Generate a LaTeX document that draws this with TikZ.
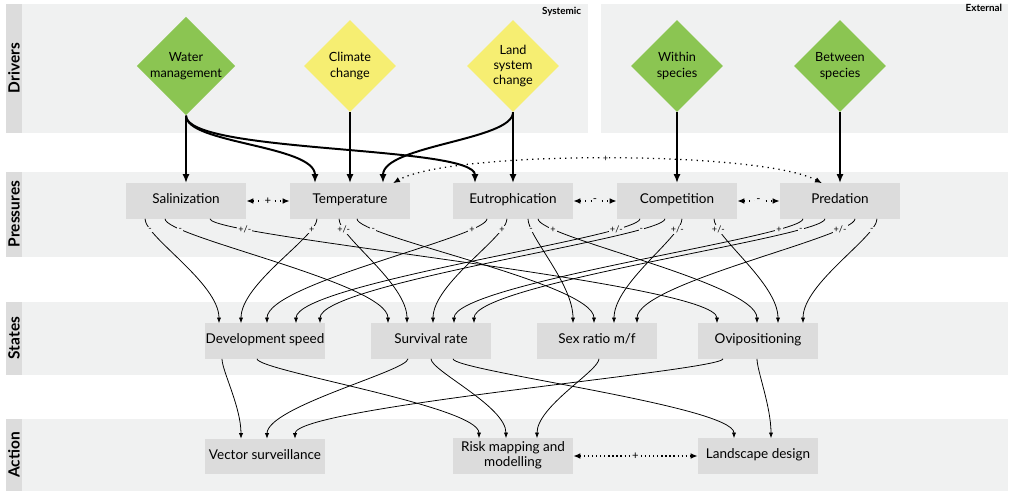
\documentclass[tikz,border=0pt]{standalone}
\usepackage{fontspec}
\setmainfont{Lato}
\usetikzlibrary{arrows.meta,positioning,calc,shapes.geometric}

\definecolor{bandgray}{RGB}{240,241,241}
\definecolor{boxgray}{RGB}{220,220,220}
\definecolor{drvgreen}{RGB}{139,197,82}
\definecolor{drvyellow}{RGB}{246,238,114}

\begin{document}
\begin{tikzpicture}[
  x=0.025cm, y=-0.025cm,
  rowname/.style={rotate=90, font=\bfseries\fontsize{11}{12}\selectfont},
  driver/.style={diamond, aspect=1, minimum size=2.3cm, inner sep=0pt,
    align=center, font=\fontsize{9}{11}\selectfont},
  box/.style={fill=boxgray, minimum width=3cm, minimum height=0.875cm,
    inner sep=0pt, align=center, font=\fontsize{9.6}{10.5}\selectfont,
    execute at begin node=\strut},
  push/.style={-{Latex[length=6.5pt,width=5pt]}, line width=1.4pt},
  link/.style={-{Latex[length=4pt,width=3pt]}, line width=0.55pt},
  both/.style={{Latex[length=5pt,width=4pt]}-{Latex[length=5pt,width=4pt]},
    line width=0.9pt, dash pattern=on 0.9pt off 3pt},
  sign/.style={fill=bandgray, inner sep=0.8pt, font=\fontsize{6.5}{7}\selectfont},
  curve/.style={to path={.. controls +(0,18) and +(0,-40) .. (\tikztotarget) \tikztonodes}},
  drop/.style={to path={.. controls +(0,12) and +(0,-32) .. (\tikztotarget) \tikztonodes}},
]
\useasboundingbox (0,0) rectangle (1012,491);

% bands
\fill[bandgray] (22,4) rectangle (588,133);
\fill[bandgray] (601,4) rectangle (1008,133);
\fill[bandgray] (22,172) rectangle (1008,257);
\fill[bandgray] (22,302) rectangle (1008,375);
\fill[bandgray] (22,419) rectangle (1008,491);
\fill[boxgray] (6,4) rectangle (22,133);
\fill[boxgray] (6,172) rectangle (22,257);
\fill[boxgray] (6,302) rectangle (22,375);
\fill[boxgray] (6,419) rectangle (22,491);
\node[rowname] (rdrv) at (14,68) {Drivers};
\node[rowname] (rprs) at (14,214) {Pressures};
\node[rowname] (rsta) at (14,338) {States};
\node[rowname] (ract) at (14,455) {Action};
\node[font=\bfseries\fontsize{7}{8}\selectfont, anchor=east] (sys) at (586,12) {Systemic};
\node[font=\bfseries\fontsize{7}{8}\selectfont, anchor=east] (ext) at (1007,8) {External};

% drivers
\node[driver, fill=drvgreen] (water) at (186,66) {Water\\management};
\node[driver, fill=drvyellow] (climate) at (350,66) {Climate\\change};
\node[driver, fill=drvyellow] (landsys) at (513,66) {Land\\system\\change};
\node[driver, fill=drvgreen] (within) at (677,66) {Within\\species};
\node[driver, fill=drvgreen] (between) at (840,66) {Between\\species};

% pressures
\node[box] (sal) at (186,201) {Salinization};
\node[box] (temp) at (350,201) {Temperature};
\node[box] (eutro) at (513,201) {Eutrophication};
\node[box] (comp) at (677,201) {Competition};
\node[box] (pred) at (840,201) {Predation};

% states
\node[box] (dev) at (265,341) {Development speed};
\node[box] (surv) at (431,341) {Survival rate};
\node[box] (sex) at (597,341) {Sex ratio m/f};
\node[box] (ovi) at (758,341) {Ovipositioning};

% action
\node[box, below=2cm of dev] (vecsurv) {Vector surveillance};
\node[box] (risk) at (513,456) {Risk mapping and\\modelling};
\node[box] (landdes) at (758,456) {Landscape design};

% drivers -> pressures
\draw[push] (water.south) -- (sal.north);
\draw[push] (water.south) .. controls +(0,28) and +(0,-38) .. ($(temp.north)+(-35,0)$);
\draw[push] (water.south) .. controls +(0,38) and +(0,-38) .. ($(eutro.north)+(-38,0)$);
\draw[push] (climate.south) -- (temp.north);
\draw[push] (landsys.south) .. controls +(0,28) and +(0,-38) .. ($(temp.north)+(33,0)$);
\draw[push] (landsys.south) -- (eutro.north);
\draw[push] (within.south) -- (comp.north);
\draw[push] (between.south) -- (pred.north);

% links between pressures
\draw[both] (sal) -- node[sign, font=\fontsize{8}{8}\selectfont] {+} (temp);
\draw[both] (eutro) -- node[sign, font=\fontsize{8}{8}\selectfont] {-} (comp);
\draw[both] (comp) -- node[sign, font=\fontsize{8}{8}\selectfont] {-} (pred);
\draw[both] ($(pred.north)+(-18,0)$) .. controls +(-62,-33) and +(57,-33) .. ($(temp.north)+(43,0)$)
  node[sign, pos=0.5, fill=white] {+};

% pressures -> states
\draw[link] ($(sal.south)+(-41,0)$) to[curve] node[sign, pos=0.16] {-} ($(dev.north)+(-46,0)$);
\draw[link] ($(sal.south)+(-21,0)$) to[curve] node[sign, pos=0.16] {-} ($(surv.north)+(-43,0)$);
\draw[link] ($(sal.south)+(24,0)$) to[curve] node[sign, pos=0.16] {+/-} ($(ovi.north)+(-41,0)$);
\draw[link] ($(temp.south)+(-33,0)$) to[curve] node[sign, pos=0.16] {+} ($(dev.north)+(-24,0)$);
\draw[link] ($(temp.south)+(-11,0)$) to[curve] node[sign, pos=0.16] {+/-} ($(surv.north)+(-24,0)$);
\draw[link] ($(temp.south)+(7,0)$) to[curve] node[sign, pos=0.16] {-} ($(sex.north)+(-3,0)$);
\draw[link] ($(eutro.south)+(-26,0)$) to[curve] node[sign, pos=0.16] {+} ($(dev.north)+(2,0)$);
\draw[link] ($(eutro.south)+(-6,0)$) to[curve] node[sign, pos=0.16] {+} ($(surv.north)+(2,0)$);
\draw[link] ($(eutro.south)+(15,0)$) to[curve] node[sign, pos=0.16] {-} ($(sex.north)+(-24,0)$);
\draw[link] ($(eutro.south)+(25,0)$) to[curve] node[sign, pos=0.16] {+} ($(ovi.north)+(-1,0)$);
\draw[link] ($(comp.south)+(-37,0)$) to[curve] node[sign, pos=0.16] {+/-} ($(dev.north)+(31,0)$);
\draw[link] ($(comp.south)+(-12,0)$) to[curve] node[sign, pos=0.16] {-} ($(dev.north)+(55,0)$);
\draw[link] ($(comp.south)+(5,0)$) to[curve] node[sign, pos=0.16] {+/-} ($(sex.north)+(17,0)$);
\draw[link] ($(comp.south)+(37,0)$) to[curve] node[sign, pos=0.16] {+/-} ($(ovi.north)+(20,0)$);
\draw[link] ($(pred.south)+(-37,0)$) to[curve] node[sign, pos=0.16] {+} ($(surv.north)+(23,0)$);
\draw[link] ($(pred.south)+(-15,0)$) to[curve] node[sign, pos=0.16] {-} ($(surv.north)+(43,0)$);
\draw[link] ($(pred.south)+(15,0)$) to[curve] node[sign, pos=0.16] {+/-} ($(sex.north)+(40,0)$);
\draw[link] ($(pred.south)+(37,0)$) to[curve] node[sign, pos=0.16] {-} ($(ovi.north)+(45,0)$);

% states -> action
\draw[link] ($(dev.south)+(-43,0)$) to[drop] ($(vecsurv.north)+(-24,0)$);
\draw[link] ($(dev.south)+(-8,0)$) to[drop] ($(risk.north)+(-34,0)$);
\draw[link] ($(surv.south)+(-23,0)$) to[drop] ($(vecsurv.north)+(2,0)$);
\draw[link] (surv.south) to[drop] ($(risk.north)+(-7,0)$);
\draw[link] ($(surv.south)+(22,0)$) to[drop] ($(landdes.north)+(-24,0)$);
\draw[link] ($(sex.south)+(2,0)$) to[drop] ($(risk.north)+(24,0)$);
\draw[link] ($(ovi.south)+(-35,0)$) to[drop] ($(vecsurv.north)+(30,0)$);
\draw[link] ($(ovi.south)+(-1,0)$) to[drop] ($(landdes.north)+(13,0)$);
\draw[both, dash pattern=on 0.9pt off 2pt] (risk) -- node[sign, font=\fontsize{8}{8}\selectfont] {+} (landdes);
\end{tikzpicture}
\end{document}
